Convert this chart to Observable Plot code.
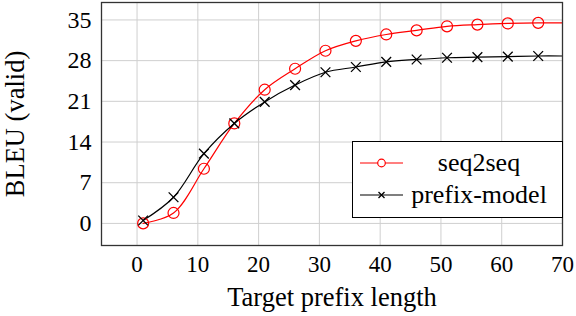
<!DOCTYPE html>
<html>
<head>
<meta charset="utf-8">
<script src="https://cdn.jsdelivr.net/npm/d3@7"></script>
<script src="https://cdn.jsdelivr.net/npm/@observablehq/plot@0.6"></script>
<style>
  html, body { margin: 0; padding: 0; background: white; }
  #wrap { position: relative; width: 576px; height: 316px; font-family: "Liberation Serif", serif; }
  #wrap svg text { font-family: "Liberation Serif", serif !important; }
  #legend { position: absolute; left: 352px; top: 141px; }
</style>
</head>
<body>
<div id="wrap"></div>
<script>
// Target prefix length (markers every 5 steps; line continues to 70)
const steps = [1, 6, 11, 16, 21, 26, 31, 36, 41, 46, 51, 56, 61, 66, 70];
const seq2seq = [0.0, 1.8, 9.4, 17.2, 23.0, 26.6, 29.7, 31.4, 32.5, 33.2, 33.9, 34.2, 34.4, 34.5, 34.5];
const prefixModel = [0.5, 4.5, 12.0, 17.2, 20.9, 23.8, 26.0, 26.9, 27.8, 28.2, 28.5, 28.6, 28.7, 28.8, 28.8];
const markerSteps = [1, 6, 11, 16, 21, 26, 31, 36, 41, 46, 51, 56, 61, 66];
const xTicks = [0, 10, 20, 30, 40, 50, 60, 70];
const yTicks = [0, 7, 14, 21, 28, 35];
const seriesNames = ["seq2seq", "prefix-model"];
const seriesColors = ["#ff0000", "#000000"];
const xLabel = "Target prefix length";
const yLabel = "BLEU (valid)";

const data = [];
steps.forEach((s, i) => {
  data.push({series: seriesNames[0], x: s, y: seq2seq[i]});
  data.push({series: seriesNames[1], x: s, y: prefixModel[i]});
});
const markers = data.filter(d => markerSteps.includes(d.x));
const FF = "Liberation Serif, serif";

const chart = Plot.plot({
  width: 576,
  height: 316,
  marginLeft: 101,
  marginRight: 14,
  marginTop: 2,
  marginBottom: 71,
  style: {fontFamily: FF, fontSize: "24px", color: "#000", background: "white", overflow: "visible"},
  x: {domain: [-5.85, 70]},
  y: {domain: [-3.8, 38]},
  marks: [
    Plot.gridX(xTicks, {stroke: "#cfcfcf", strokeOpacity: 1, strokeWidth: 1}),
    Plot.gridY(yTicks, {stroke: "#cfcfcf", strokeOpacity: 1, strokeWidth: 1}),
    Plot.line(data.filter(d => d.series === seriesNames[0]), {x: "x", y: "y", stroke: seriesColors[0], strokeWidth: 1.2, curve: "catmull-rom"}),
    Plot.line(data.filter(d => d.series === seriesNames[1]), {x: "x", y: "y", stroke: seriesColors[1], strokeWidth: 1.2, curve: "catmull-rom"}),
    Plot.dot(markers.filter(d => d.series === seriesNames[0]), {x: "x", y: "y", symbol: "circle", r: 5.5, stroke: seriesColors[0], fill: "none", strokeWidth: 1.2}),
    Plot.dot(markers.filter(d => d.series === seriesNames[1]), {x: "x", y: "y", symbol: "times", r: 4.5, stroke: seriesColors[1], strokeWidth: 1.3}),
    Plot.frame({stroke: "#333", strokeWidth: 1.3}),
    Plot.axisX(xTicks, {tickSize: 0, tickPadding: 10, fontSize: 23, fontFamily: FF, label: null}),
    Plot.axisY(yTicks, {tickSize: 0, tickPadding: 10, fontSize: 24, fontFamily: FF, label: null}),
    Plot.text([xLabel], {text: d => d, frameAnchor: "bottom", dy: 60, fontSize: 26.5, fontFamily: FF, fill: "#000"}),
    Plot.text([yLabel], {text: d => d, frameAnchor: "left", dx: -86, rotate: -90, textAnchor: "middle", lineAnchor: "middle", fontSize: 26.5, fontFamily: FF, fill: "#000"})
  ]
});
const wrap = document.getElementById("wrap");
wrap.appendChild(chart);

// Legend box (inside plot area, lower right)
const ns = "http://www.w3.org/2000/svg";
const lg = document.createElementNS(ns, "svg");
lg.setAttribute("id", "legend");
lg.setAttribute("width", 211);
lg.setAttribute("height", 77);
lg.innerHTML = `
  <rect x="0.5" y="0.5" width="210" height="76" fill="white" stroke="#000" stroke-width="1"/>
  <line x1="8" x2="51" y1="22" y2="22" stroke="${seriesColors[0]}" stroke-width="1.2"/>
  <circle cx="29.5" cy="22" r="3.8" fill="white" stroke="${seriesColors[0]}" stroke-width="1.2"/>
  <text x="127" y="22" dy="0.32em" text-anchor="middle" font-size="26">${seriesNames[0]}</text>
  <line x1="8" x2="51" y1="54" y2="54" stroke="${seriesColors[1]}" stroke-width="1.2"/>
  <path d="M26.5,51L32.5,57M26.5,57L32.5,51" stroke="${seriesColors[1]}" stroke-width="1.3"/>
  <text x="127" y="54" dy="0.32em" text-anchor="middle" font-size="26">${seriesNames[1]}</text>
`;
wrap.appendChild(lg);
</script>
</body>
</html>
